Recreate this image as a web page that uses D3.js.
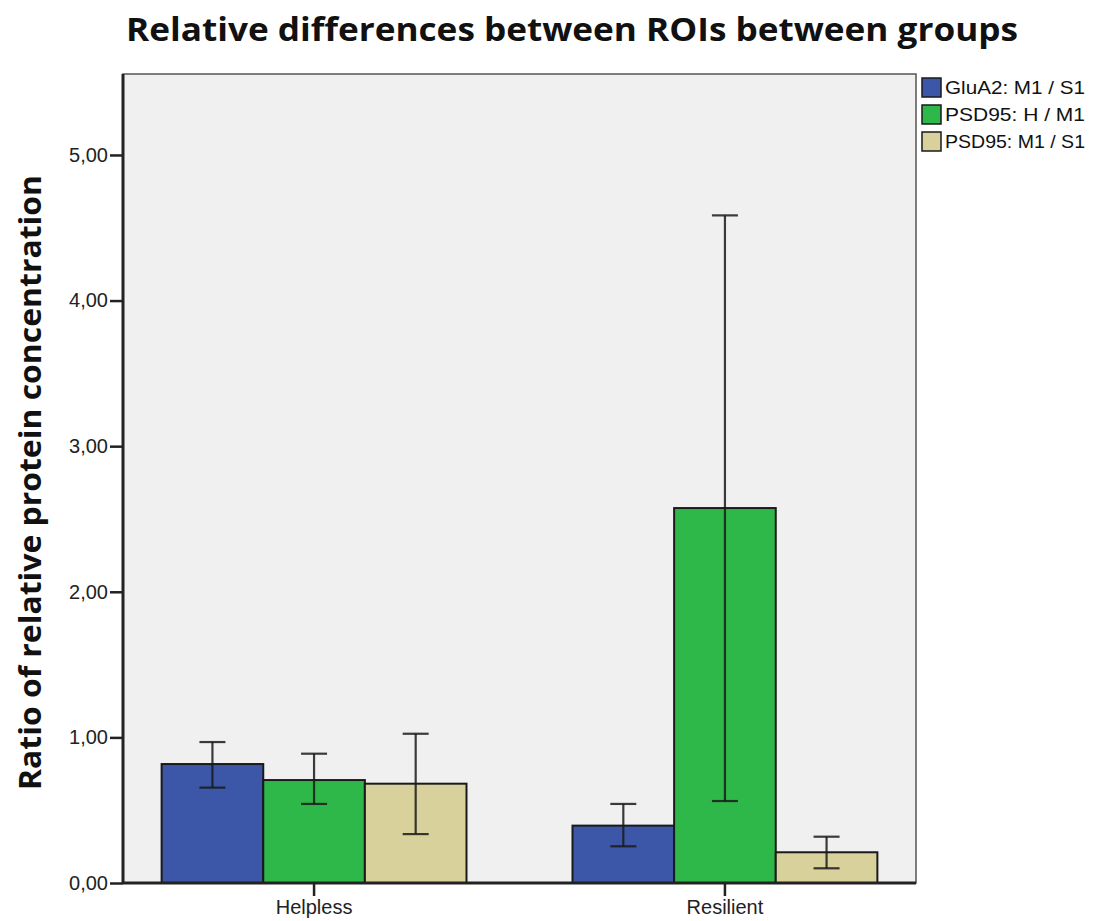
<!DOCTYPE html>
<html>
<head>
<meta charset="utf-8">
<script src="https://cdn.jsdelivr.net/npm/d3@7/dist/d3.min.js"></script>
<style>
  html, body { margin: 0; padding: 0; background: #ffffff; }
  svg { display: block; }
</style>
</head>
<body>
<svg id="chart" width="1093" height="921"></svg>
<script>
// Groups and series
const groups = ["Helpless", "Resilient"];
const seriesNames = ["GluA2: M1  / S1", "PSD95: H / M1", "PSD95: M1  / S1"];
const seriesColors = ["#3c57a8", "#2fb84a", "#d8d19b"];

// Mean ratio per series, one entry per group
const gluA2_M1_S1 = [0.817, 0.394];
const psd95_H_M1 = [0.707, 2.575];
const psd95_M1_S1 = [0.682, 0.211];

// Error bar limits (lower, upper) per series, one entry per group
const gluA2_M1_S1_err = [[0.655, 0.968], [0.252, 0.543]];
const psd95_H_M1_err = [[0.543, 0.888], [0.563, 4.585]];
const psd95_M1_S1_err = [[0.336, 1.025], [0.101, 0.318]];

const yTicks = [0, 1, 2, 3, 4, 5];
const yTickLabels = ["0,00", "1,00", "2,00", "3,00", "4,00", "5,00"];

const means = [gluA2_M1_S1, psd95_H_M1, psd95_M1_S1];
const errs = [gluA2_M1_S1_err, psd95_H_M1_err, psd95_M1_S1_err];

const rows = [];
groups.forEach((g, gi) => {
  seriesNames.forEach((s, si) => {
    rows.push({ group: g, series: s, si, value: means[si][gi], lo: errs[si][gi][0], hi: errs[si][gi][1] });
  });
});

const svg = d3.select("#chart");
const plot = { left: 123, top: 74, right: 916, bottom: 883 };
const labelFont = "'Liberation Sans', Arial, sans-serif";
const titleFont = "'Open Sans', 'DejaVu Sans', sans-serif";

const x0 = d3.scaleBand().domain(groups)
  .range([plot.left, plot.right])
  .paddingInner(0.258).paddingOuter(0.094);
const x1 = d3.scaleBand().domain(seriesNames).range([0, x0.bandwidth()]).padding(0);
const y = d3.scaleLinear().domain([0, 5.556]).range([plot.bottom, plot.top]);

// Plot background
svg.append("rect")
  .attr("x", plot.left).attr("y", plot.top)
  .attr("width", plot.right - plot.left).attr("height", plot.bottom - plot.top)
  .attr("fill", "#f0f0f0");

// Bars
svg.append("g").selectAll("rect").data(rows).join("rect")
  .attr("x", d => x0(d.group) + x1(d.series))
  .attr("y", d => y(d.value))
  .attr("width", x1.bandwidth())
  .attr("height", d => y(0) - y(d.value))
  .attr("fill", d => seriesColors[d.si])
  .attr("stroke", "#1a1a1a")
  .attr("stroke-width", 2);

// Error bars
const capHalf = 13;
const eb = svg.append("g").attr("stroke", "#1a1a1a").attr("stroke-opacity", 0.85).attr("stroke-width", 2.2);
rows.forEach(d => {
  const cx = x0(d.group) + x1(d.series) + x1.bandwidth() / 2;
  eb.append("line").attr("x1", cx).attr("x2", cx).attr("y1", y(d.lo)).attr("y2", y(d.hi));
  eb.append("line").attr("x1", cx - capHalf).attr("x2", cx + capHalf).attr("y1", y(d.hi)).attr("y2", y(d.hi));
  eb.append("line").attr("x1", cx - capHalf).attr("x2", cx + capHalf).attr("y1", y(d.lo)).attr("y2", y(d.lo));
});

// Frame
svg.append("rect")
  .attr("x", plot.left).attr("y", plot.top)
  .attr("width", plot.right - plot.left).attr("height", plot.bottom - plot.top)
  .attr("fill", "none").attr("stroke", "#555").attr("stroke-width", 1.5);

// Y axis
const yAxis = d3.axisLeft(y).tickValues(yTicks)
  .tickFormat((d, i) => yTickLabels[i]).tickSize(13).tickPadding(2);
const gy = svg.append("g").attr("transform", `translate(${plot.left},0)`).call(yAxis);
gy.select(".domain").attr("stroke", "#222").attr("stroke-width", 3).attr("d", `M0,${plot.top}V${plot.bottom}`);
gy.selectAll(".tick line").attr("stroke", "#222").attr("stroke-width", 2.5);
gy.selectAll(".tick text").attr("fill", "#222").style("font", `20px ${labelFont}`);

// X axis
const xAxis = d3.axisBottom(x0).tickSize(13).tickPadding(4);
const gx = svg.append("g").attr("transform", `translate(0,${plot.bottom})`).call(xAxis);
gx.select(".domain").attr("stroke", "#222").attr("stroke-width", 3).attr("d", `M${plot.left},0H${plot.right}`);
gx.selectAll(".tick line").attr("stroke", "#222").attr("stroke-width", 2.5);
gx.selectAll(".tick text").attr("fill", "#222").style("font", `20px ${labelFont}`);

// Title
svg.append("text")
  .attr("x", 572).attr("y", 41)
  .attr("text-anchor", "middle")
  .style("font", `bold 33px ${titleFont}`)
  .attr("textLength", 892).attr("lengthAdjust", "spacingAndGlyphs")
  .attr("fill", "#111")
  .text("Relative differences between ROIs between groups");

// Y axis title
svg.append("text")
  .attr("transform", `translate(41,${(plot.top + plot.bottom) / 2 + 4}) rotate(-90)`)
  .attr("text-anchor", "middle")
  .style("font", `bold 31px ${titleFont}`)
  .attr("textLength", 615).attr("lengthAdjust", "spacingAndGlyphs")
  .attr("fill", "#111")
  .text("Ratio of relative protein concentration");

// Legend
const legend = svg.append("g").attr("transform", "translate(921,78)");
seriesNames.forEach((s, i) => {
  const g = legend.append("g").attr("transform", `translate(0,${i * 27})`);
  g.append("rect").attr("x", 1).attr("y", 0).attr("width", 19).attr("height", 19)
    .attr("fill", seriesColors[i]).attr("stroke", "#1a1a1a").attr("stroke-width", 1.5);
  g.append("text").attr("x", 24).attr("y", 16)
    .style("font", `19px ${labelFont}`)
    .attr("textLength", 140).attr("lengthAdjust", "spacingAndGlyphs")
    .attr("fill", "#111")
    .text(s);
});
</script>
</body>
</html>
